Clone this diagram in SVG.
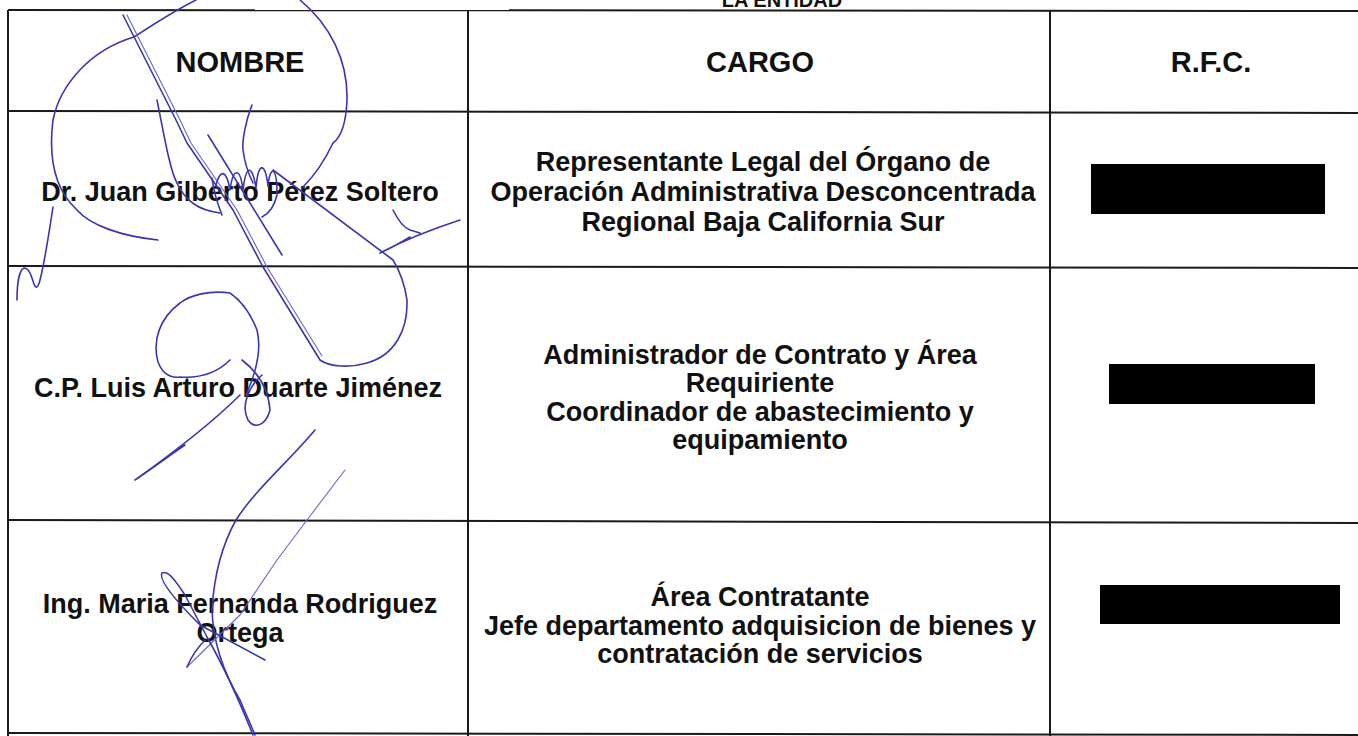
<svg xmlns="http://www.w3.org/2000/svg" width="1358" height="736" viewBox="0 0 1358 736">
<defs>
<style>
.grid{stroke:#1a1a1a;stroke-width:2;fill:none}
.hd{font-family:"Liberation Sans",Arial,sans-serif;font-weight:bold;font-size:29px;fill:#111;text-anchor:middle}
.tx{font-family:"Liberation Sans",Arial,sans-serif;font-weight:bold;font-size:27px;fill:#111;text-anchor:middle}
.red{fill:#000}
.sig{fill:none;stroke:#3b36b0;stroke-width:1.6;stroke-linecap:round;stroke-linejoin:round}
.sigl{fill:none;stroke:#6a66cc;stroke-width:1.1;stroke-linecap:round;stroke-linejoin:round}
</style>
</defs>
<rect width="1358" height="736" fill="#fff"/>
<text class="hd" x="782" y="7" style="font-size:20px">LA ENTIDAD</text>
<g id="table" class="grid">
<line x1="8" y1="10" x2="1358" y2="11"/>
<line x1="8" y1="111" x2="1358" y2="113"/>
<line x1="8" y1="266" x2="1358" y2="268"/>
<line x1="8" y1="520" x2="1358" y2="523"/>
<line x1="8" y1="733" x2="1358" y2="735"/>
<line x1="8" y1="10" x2="8" y2="736"/>
<line x1="468" y1="10" x2="468" y2="736"/>
<line x1="1050" y1="10" x2="1050" y2="736"/>
</g>
<g id="header">
<text class="hd" x="240" y="72">NOMBRE</text>
<text class="hd" x="760" y="72">CARGO</text>
<text class="hd" x="1211" y="72">R.F.C.</text>
</g>
<g id="row1">
<text class="tx" x="240" y="201">Dr. Juan Gilberto Pérez Soltero</text>
<text class="tx" x="763" y="171">Representante Legal del Órgano de</text>
<text class="tx" x="763" y="201">Operación Administrativa Desconcentrada</text>
<text class="tx" x="763" y="231">Regional Baja California Sur</text>
<rect class="red" x="1091" y="164" width="234" height="50"/>
</g>
<g id="row2">
<text class="tx" x="238" y="397">C.P. Luis Arturo Duarte Jiménez</text>
<text class="tx" x="760" y="364">Administrador de Contrato y Área</text>
<text class="tx" x="760" y="392">Requiriente</text>
<text class="tx" x="760" y="421">Coordinador de abastecimiento y</text>
<text class="tx" x="760" y="449">equipamiento</text>
<rect class="red" x="1109" y="364" width="206" height="40"/>
</g>
<g id="row3">
<text class="tx" x="240" y="613">Ing. Maria Fernanda Rodriguez</text>
<text class="tx" x="240" y="642">Ortega</text>
<text class="tx" x="760" y="606">Área Contratante</text>
<text class="tx" x="760" y="635">Jefe departamento adquisicion de bienes y</text>
<text class="tx" x="760" y="663">contratación de servicios</text>
<rect class="red" x="1100" y="585" width="240" height="39"/>
</g>
<g id="signatures">
<path class="sig" d="M158,240 C120,236 90,225 77,210 C55,190 48,160 53,120 C60,85 90,50 134,37 C160,20 180,8 196,0"/>
<path class="sig" d="M300,0 C330,25 348,60 347,100 C346,125 340,138 333,143 C325,160 315,175 303,187"/>
<path class="sig" d="M123,15 L176,120 L187,143 L233,210 L263,267 L320,360 C330,367 350,368 367,363 C395,355 408,330 407,300 C404,280 398,268 393,260 L273,170"/>
<path class="sigl" d="M127,15 L180,120 L191,143 L237,210 L267,267 L322,356"/>
<path class="sig" d="M157,100 C165,140 170,170 177,183 C185,200 197,210 220,213"/>
<path class="sig" d="M208,135 L282,255"/>
<path class="sig" d="M252,105 C246,120 242,140 243,150 C245,165 249,175 253,183"/>
<path class="sig" d="M212,178 C214,195 218,205 222,215 M216,185 C220,170 226,168 230,190 C233,168 240,166 243,190 C246,165 252,163 256,188 C258,163 265,160 268,186 C270,165 277,165 277,195 C274,208 268,214 262,217"/>
<path class="sig" d="M380,253 C395,245 420,233 460,220 M393,210 C398,220 404,228 410,230 L420,233 M382,252 C395,246 405,240 410,237"/>
<path class="sig" d="M53,207 C48,240 44,265 40,280 C38,288 36,289 34,284 C31,275 29,268 24,268 C19,270 17,285 17,300"/>
<path class="sig" d="M246,395 C255,375 262,350 257,330 C250,312 240,300 230,293 C210,290 190,295 180,303 C160,318 152,340 158,362 C163,375 172,378 180,377 C195,378 215,375 230,360 M242,360 C255,370 268,385 270,410 C266,425 255,430 248,420 C240,405 250,385 262,375 M240,395 C210,425 170,455 135,480 C150,470 170,455 185,445"/>
<path class="sig" d="M315,430 C290,460 255,490 236,520 C222,545 214,575 212,610 C213,640 222,670 240,700 L255,735"/>
<path class="sigl" d="M345,470 L307,520 L277,560 L240,615 L187,667"/>
<path class="sig" d="M162,573 C168,570 175,580 185,595 L207,637 C220,660 235,690 253,735 M162,573 C158,580 175,600 200,625 L265,660 M205,640 C195,650 190,660 187,667"/>
</g>
</svg>
